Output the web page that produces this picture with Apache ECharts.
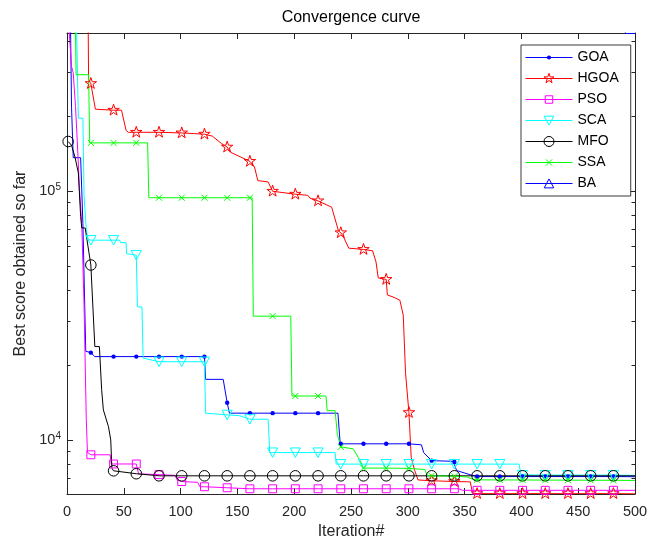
<!DOCTYPE html>
<html>
<head>
<meta charset="utf-8">
<script src="https://cdn.jsdelivr.net/npm/echarts@6/dist/echarts.min.js"></script>
<style>
  html, body { margin: 0; padding: 0; background: #fff; }
  #chart { width: 661px; height: 546px; }
</style>
</head>
<body>
<div id="chart"></div>
<script>
// Best-so-far score per iteration, as [iteration, score] breakpoints.
// Markers sit on iterations 1, 21, 41, ... 481.
const seriesNames = ['GOA', 'HGOA', 'PSO', 'SCA', 'MFO', 'SSA', 'BA'];
const seriesColors = ['#0000ff', '#ff0000', '#ff00ff', '#00ffff', '#000000', '#00ff00', '#0000ff'];

const goa = [
  [1, 1.5e6], [3, 5.0e5], [4, 2.17e5], [5.5, 1.36e5], [12, 1.36e5], [14, 7.4e4], [16.5, 2.27e4],
  [21, 2.24e4], [24.5, 2.16e4], [41, 2.16e4], [61, 2.16e4], [81, 2.16e4], [101, 2.16e4], [121, 2.16e4],
  [122, 1.75e4], [137.5, 1.75e4], [141, 1.41e4], [143, 1.28e4], [161, 1.28e4], [181, 1.28e4],
  [201, 1.28e4], [221, 1.28e4], [238.5, 1.28e4], [240.5, 9.64e3], [241, 9.64e3], [261, 9.64e3],
  [281, 9.64e3], [301, 9.64e3], [312, 9.55e3], [314, 8.88e3], [321, 8.25e3], [340, 8.2e3],
  [341, 8.15e3], [343, 7.53e3], [355, 7.24e3], [361, 7.12e3], [381, 7.12e3], [401, 7.12e3],
  [421, 7.12e3], [441, 7.12e3], [461, 7.12e3], [481, 7.12e3], [500, 7.11e3]
];

const hgoa = [
  [1, 2.0e6], [18, 1.2e6], [19, 2.8e5], [21, 2.7e5], [25, 2.13e5], [41, 2.11e5], [48, 2.11e5],
  [52, 1.75e5], [54, 1.72e5], [61, 1.72e5], [81, 1.72e5], [101, 1.71e5], [121, 1.69e5], [128, 1.66e5],
  [136, 1.55e5], [141, 1.5e5], [144, 1.43e5], [161, 1.315e5], [165, 1.25e5], [168, 1.1e5],
  [169, 1.087e5], [177, 1.087e5], [181, 9.97e4], [201, 9.7e4], [212, 9.6e4], [214, 9.35e4],
  [221, 9.12e4], [233, 8.6e4], [239, 6.9e4], [241, 6.79e4], [243, 6.6e4], [248, 5.89e4],
  [261, 5.82e4], [269, 5.75e4], [272, 5.19e4], [274, 4.47e4], [281, 4.41e4], [282, 3.82e4],
  [287, 3.75e4], [293, 3.64e4], [296, 3.17e4], [298, 1.86e4], [301, 1.287e4], [303, 8.5e3],
  [306, 7.55e3], [309, 6.9e3], [321, 6.85e3], [341, 6.8e3], [355, 6.78e3], [357, 6.1e3],
  [361, 6.08e3], [381, 6.08e3], [401, 6.08e3], [421, 6.08e3], [441, 6.08e3], [461, 6.08e3],
  [481, 6.08e3], [500, 6.07e3]
];

const pso = [
  [1, 5e5], [2, 4.3e5], [4, 3.16e5], [5.5, 2.98e5], [7.5, 2.18e5], [9, 1.6e5], [11, 1.01e5],
  [13, 7.4e4], [15, 3.5e4], [17, 1.2e4], [18, 8.9e3], [21, 8.71e3], [38, 8.71e3], [39, 8.0e3],
  [41, 8.0e3], [61, 8.0e3], [63, 7.3e3], [81, 7.25e3], [95, 7.2e3], [97, 6.9e3], [101, 6.8e3],
  [115, 6.75e3], [117, 6.48e3], [121, 6.48e3], [141, 6.42e3], [161, 6.36e3], [181, 6.36e3],
  [201, 6.36e3], [221, 6.36e3], [241, 6.36e3], [261, 6.36e3], [281, 6.36e3], [301, 6.36e3],
  [321, 6.36e3], [341, 6.36e3], [345, 6.36e3], [348, 6.27e3], [361, 6.27e3], [381, 6.27e3],
  [401, 6.27e3], [421, 6.27e3], [441, 6.27e3], [461, 6.27e3], [481, 6.27e3], [500, 6.27e3]
];

const sca = [
  [1, 2e6], [8, 6e5], [9.5, 2.5e5], [10, 1.96e5], [14, 1.96e5], [15, 9.6e4], [17, 7.0e4],
  [18.5, 6.4e4], [21, 6.34e4], [41, 6.34e4], [46.5, 6.34e4], [47, 6.2e4], [52, 6.2e4],
  [52.5, 5.6e4], [61, 5.52e4], [62, 3.42e4], [66, 3.42e4], [67, 2.13e4], [81, 2.06e4],
  [101, 2.06e4], [121, 2.06e4], [122, 1.28e4], [141, 1.26e4], [152, 1.25e4], [161, 1.21e4],
  [177, 1.21e4], [178.5, 8.89e3], [181, 8.89e3], [201, 8.89e3], [221, 8.89e3], [236, 8.89e3],
  [237, 7.99e3], [241, 7.99e3], [261, 7.99e3], [281, 7.99e3], [301, 7.99e3], [321, 7.99e3],
  [341, 7.99e3], [361, 7.99e3], [381, 7.99e3], [398, 7.99e3], [399.5, 7.24e3], [401, 7.22e3],
  [421, 7.22e3], [441, 7.22e3], [461, 7.22e3], [481, 7.22e3], [500, 7.2e3]
];

const mfo = [
  [1, 1.58e5], [4, 1.525e5], [7, 1.37e5], [10, 1.18e5], [12, 7.9e4], [13, 7.1e4], [16, 7.1e4],
  [21, 5.04e4], [24.5, 2.37e4], [28.5, 2.37e4], [30.5, 1.59e4], [32, 1.32e4], [36.5, 1.13e4],
  [38.5, 1.0e4], [39.5, 7.7e3], [41, 7.51e3], [61, 7.31e3], [81, 7.17e3], [101, 7.17e3],
  [121, 7.17e3], [141, 7.17e3], [161, 7.17e3], [181, 7.17e3], [201, 7.17e3], [221, 7.17e3],
  [241, 7.17e3], [261, 7.17e3], [281, 7.17e3], [301, 7.17e3], [321, 7.17e3], [341, 7.17e3],
  [361, 7.17e3], [381, 7.17e3], [401, 7.17e3], [421, 7.17e3], [441, 7.17e3], [461, 7.17e3],
  [481, 7.17e3], [500, 7.17e3]
];

const ssa = [
  [1, 9e5], [7, 6e5], [8, 2.93e5], [19, 2.93e5], [20, 1.56e5], [21, 1.56e5], [41, 1.56e5],
  [61, 1.56e5], [71, 1.56e5], [72, 9.39e4], [81, 9.39e4], [101, 9.39e4], [121, 9.39e4],
  [141, 9.39e4], [161, 9.39e4], [163, 9.39e4], [164, 3.14e4], [181, 3.14e4], [197, 3.14e4],
  [198, 1.5e4], [201, 1.5e4], [221, 1.5e4], [228, 1.5e4], [229, 1.31e4], [236, 1.31e4],
  [238, 1.05e4], [241, 9.37e3], [252, 9.2e3], [258, 8.26e3], [261, 7.7e3], [281, 7.7e3],
  [301, 7.68e3], [315, 7.6e3], [317, 7.2e3], [321, 7.17e3], [341, 7.14e3], [352, 7.1e3],
  [358, 6.92e3], [361, 6.91e3], [381, 6.9e3], [401, 6.9e3], [421, 6.89e3], [441, 6.89e3],
  [461, 6.88e3], [481, 6.88e3], [500, 6.87e3]
];

const ba = [
  [1, 3e6], [101, 1.6e6], [201, 9e5], [301, 6.5e5], [401, 5.2e5], [481, 4.6e5],
  [490, 4.45e5], [492, 4.29e5], [500, 4.29e5]
];

// Log-axis limits and the minor ticks drawn between the decades
const yMin = 6060;
const yMax = 431000;
const yMinorTicks = [7000, 8000, 9000, 20000, 30000, 40000, 50000, 60000, 70000, 80000, 90000,
  200000, 300000, 400000];

const FONT = 'Liberation Sans, Arial, Helvetica, sans-serif';
const AXIS = '#262626';

// Marker glyphs (the leading moves fix a square frame so sizes stay comparable)
const FRAME = 'M0 0 M100 100 ';
const SYM = {
  dot: 'path://' + FRAME + 'M50 30 A20 20 0 1 1 50 70 A20 20 0 1 1 50 30 Z',
  star: 'path://' + FRAME + 'M50 0 L61.23 34.55 L97.55 34.55 L68.17 55.9 L79.39 90.45 L50 69.1 L20.61 90.45 L31.83 55.9 L2.45 34.55 L38.77 34.55 Z',
  square: 'path://' + FRAME + 'M14 14 L86 14 L86 86 L14 86 Z',
  down: 'path://' + FRAME + 'M4 8 L96 8 L50 94 Z',
  circle: 'path://' + FRAME + 'M50 2 A48 48 0 1 1 50 98 A48 48 0 1 1 50 2 Z',
  cross: 'path://' + FRAME + 'M20 20 L80 80 M80 20 L20 80',
  up: 'path://' + FRAME + 'M50 6 L96 92 L4 92 Z'
};
const seriesSymbols = [SYM.dot, SYM.star, SYM.square, SYM.down, SYM.circle, SYM.cross, SYM.up];
const seriesFilled = [true, false, false, false, false, false, false];

function markerStyle(color, filled) {
  return filled
    ? { color: color, borderWidth: 0 }
    : { color: 'rgba(0,0,0,0)', borderColor: color, borderWidth: 1 };
}

function curve(i, data, size) {
  const color = seriesColors[i];
  return {
    name: seriesNames[i],
    type: 'line',
    data: data,
    xAxisIndex: 0,
    yAxisIndex: 0,
    symbol: seriesSymbols[i],
    symbolKeepAspect: true,
    symbolSize: function (val) { return ((val[0] - 1) % 20 === 0) ? size : 0; },
    showSymbol: true,
    lineStyle: { color: color, width: 1 },
    itemStyle: markerStyle(color, seriesFilled[i]),
    emphasis: { disabled: true },
    animation: false,
    clip: true,
    z: 3
  };
}

const chart = echarts.init(document.getElementById('chart'), null, { renderer: 'canvas' });

const xAxisBase = {
  type: 'value', min: 0, max: 500, interval: 50,
  axisLine: { show: true, onZero: false, lineStyle: { color: AXIS, width: 1 } },
  axisTick: { show: true, inside: true, length: 6, lineStyle: { color: AXIS, width: 1 } },
  splitLine: { show: false }
};
const yAxisBase = {
  type: 'log', logBase: 10, min: yMin, max: yMax,
  axisLine: { show: true, onZero: false, lineStyle: { color: AXIS, width: 1 } },
  axisTick: { show: true, inside: true, length: 6, lineStyle: { color: AXIS, width: 1 } },
  splitLine: { show: false }
};

const option = {
  backgroundColor: '#fff',
  animation: false,
  textStyle: { fontFamily: FONT },
  grid: { left: 67, right: 26, top: 33, bottom: 52, containLabel: false },
  xAxis: [
    Object.assign({}, xAxisBase, {
      position: 'bottom',
      axisLabel: { show: true, color: AXIS, fontSize: 14.5, margin: 10, fontFamily: FONT },
      name: 'Iteration#', nameLocation: 'middle', nameGap: 29,
      nameTextStyle: { color: AXIS, fontSize: 16, fontFamily: FONT }
    }),
    Object.assign({}, xAxisBase, {
      position: 'top',
      axisLabel: { show: false },
      name: 'Convergence curve', nameLocation: 'middle', nameGap: 7,
      nameTextStyle: { color: '#000', fontSize: 16, fontFamily: FONT }
    })
  ],
  yAxis: [
    Object.assign({}, yAxisBase, {
      position: 'left',
      axisLabel: {
        show: true, color: AXIS, fontSize: 14.5, margin: 6, fontFamily: FONT,
        formatter: function (v) {
          const e = Math.round(Math.log10(v));
          return Math.abs(v / Math.pow(10, e) - 1) < 1e-9 ? '{b|10}{s|' + e + '}' : '';
        },
        rich: {
          b: { fontSize: 14.5, lineHeight: 18, verticalAlign: 'middle', color: AXIS, fontFamily: FONT },
          s: { fontSize: 10, lineHeight: 9, verticalAlign: 'top', color: AXIS, fontFamily: FONT }
        }
      },
      name: 'Best score obtained so far', nameLocation: 'middle', nameGap: 30,
      nameTextStyle: { color: AXIS, fontSize: 16, fontFamily: FONT }
    }),
    Object.assign({}, yAxisBase, {
      position: 'right',
      axisLabel: { show: false }
    })
  ],
  legend: {
    data: seriesNames.map(function (name, i) {
      return {
        name: name,
        itemStyle: markerStyle(seriesColors[i], seriesFilled[i]),
        lineStyle: { color: seriesColors[i], width: 1 }
      };
    }),
    orient: 'vertical',
    left: 521, top: 45,
    itemWidth: 47, itemHeight: 13, itemGap: 7,
    padding: [5.5, 12, 5.5, 4],
    backgroundColor: '#fff',
    borderColor: '#3a3a3a', borderWidth: 1,
    selectedMode: false,
    textStyle: { color: '#000', fontSize: 14, fontFamily: FONT },
    z: 10
  },
  series: [
    curve(0, goa, 11),
    curve(1, hgoa, 12),
    curve(2, pso, 11),
    curve(3, sca, 11),
    curve(4, mfo, 11),
    curve(5, ssa, 10),
    curve(6, ba, 11),
    {
      // minor log ticks on the left and right frame edges
      type: 'custom',
      xAxisIndex: 0, yAxisIndex: 0,
      silent: true, animation: false, clip: false, z: 4,
      data: yMinorTicks.map(function (v) { return [0, v]; }),
      renderItem: function (params, api) {
        const v = api.value(1);
        const a = api.coord([0, v]);
        const b = api.coord([500, v]);
        const y = Math.round(a[1]) + 0.5;
        const st = { stroke: AXIS, lineWidth: 1 };
        return {
          type: 'group',
          children: [
            { type: 'line', shape: { x1: a[0], y1: y, x2: a[0] + 3.5, y2: y }, style: st },
            { type: 'line', shape: { x1: b[0] - 3.5, y1: y, x2: b[0], y2: y }, style: st }
          ]
        };
      }
    }
  ]
};

chart.setOption(option);
</script>
</body>
</html>
